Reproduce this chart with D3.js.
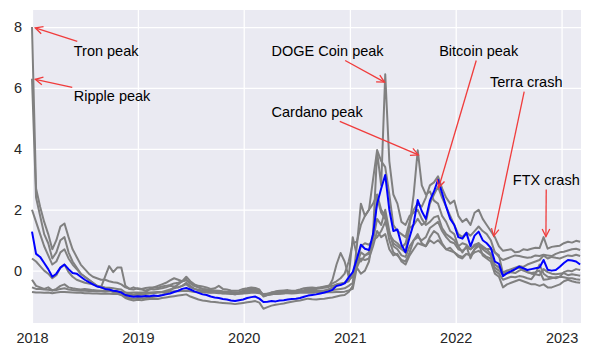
<!DOCTYPE html>
<html>
<head>
<meta charset="utf-8">
<script src="https://d3js.org/d3.v7.min.js"></script>
<style>
body { margin: 0; background: #ffffff; }
svg { display: block; font-family: "Liberation Sans", Arial, sans-serif; }
.grid line { stroke: #ffffff; stroke-width: 1.25; }
.grid text { fill: #262626; font-size: 14.5px; }
</style>
</head>
<body>
<svg id="chart" width="600" height="353"></svg>
<script>
// standardised (z-score) prices, one value every 14 days from 2018-01-01
var startDate = new Date(2018, 0, 1);
var endDate = new Date(2023, 2, 9);
var stepDays = 14;

var tron = [
  8.0, 2.7, 2.1, 1.6, 1.2, 0.7, 1.0, 1.45, 1.55, 1.1, 0.7, 0.45, 0.2, 0.05, -0.1, -0.2, -0.25, -0.3, -0.3, -0.35, -0.38, -0.4, -0.45, -0.55, -0.6, -0.62,
  -0.58, -0.6, -0.57, -0.55, -0.55, -0.56, -0.52, -0.5, -0.47, -0.42, -0.4, -0.35, -0.32, -0.4, -0.5, -0.55, -0.6, -0.62, -0.65, -0.67, -0.7, -0.72, -0.74, -0.76, -0.78, -0.74,
  -0.7, -0.66, -0.62, -0.6, -0.68, -0.8, -0.78, -0.76, -0.77, -0.74, -0.73, -0.72, -0.7, -0.68, -0.67, -0.64, -0.6, -0.58, -0.57, -0.55, -0.54, -0.52, -0.5, -0.45, -0.42, -0.4,
  -0.3, -0.2, 0.1, 0.4, 0.35, 0.4, 0.8, 1.3, 1.1, 1.2, 0.7, 0.5, 0.55, 0.3, 0.2, 0.5, 0.7, 0.9, 0.85, 0.8, 1.0, 0.9, 1.0, 0.85, 0.7, 0.65,
  0.6, 0.5, 0.45, 0.55, 0.5, 0.7, 0.8, 0.75, 0.7, 0.72, 0.6, 0.45, 0.35, 0.4, 0.45, 0.5, 0.48, 0.45, 0.42, 0.44, 0.5, 0.48, 0.52, 0.5, 0.48, 0.55,
  0.6, 0.62, 0.66, 0.7, 0.72, 0.68
];
var ripple = [
  6.3, 2.4, 1.8, 1.2, 0.9, 0.4, 0.6, 1.0, 1.1, 0.6, 0.3, 0.1, -0.1, -0.2, -0.3, -0.4, -0.5, -0.55, -0.2, 0.15, -0.05, 0.1, 0.1, -0.5, -0.6, -0.55,
  -0.6, -0.62, -0.65, -0.6, -0.62, -0.6, -0.58, -0.55, -0.5, -0.52, -0.55, -0.5, -0.45, -0.55, -0.6, -0.65, -0.68, -0.7, -0.72, -0.7, -0.72, -0.75, -0.74, -0.76, -0.78, -0.76,
  -0.74, -0.7, -0.66, -0.65, -0.7, -0.82, -0.8, -0.78, -0.76, -0.75, -0.74, -0.73, -0.72, -0.7, -0.68, -0.66, -0.65, -0.62, -0.6, -0.58, -0.56, -0.55, -0.3, 0.2, 0.58, 0.3,
  -0.2, 1.1, 0.5, 0.3, 0.5, 0.6, 1.1, 2.4, 1.9, 1.7, 1.0, 0.6, 0.5, 0.35, 0.3, 0.6, 1.0, 1.2, 0.9, 0.8, 1.1, 1.3, 1.2, 0.9, 0.7, 0.75,
  0.6, 0.45, 0.4, 0.55, 0.5, 0.6, 0.65, 0.55, 0.45, 0.4, 0.1, 0.0, -0.15, -0.1, -0.05, -0.08, 0.0, 0.05, -0.05, -0.1, -0.12, -0.15, 0.05, -0.05, -0.1, -0.12,
  -0.1, -0.08, -0.15, -0.12, -0.14, -0.17
];
var dogecoin = [
  -0.55, -0.6, -0.6, -0.62, -0.63, -0.65, -0.64, -0.6, -0.58, -0.62, -0.64, -0.65, -0.66, -0.66, -0.67, -0.67, -0.68, -0.68, -0.69, -0.68, -0.68, -0.69, -0.7, -0.72, -0.73, -0.72,
  -0.72, -0.72, -0.73, -0.72, -0.71, -0.7, -0.71, -0.7, -0.69, -0.68, -0.68, -0.67, -0.66, -0.68, -0.7, -0.71, -0.72, -0.72, -0.73, -0.73, -0.74, -0.74, -0.74, -0.75, -0.75, -0.75,
  -0.75, -0.74, -0.73, -0.73, -0.74, -0.77, -0.76, -0.76, -0.75, -0.75, -0.74, -0.74, -0.75, -0.74, -0.73, -0.73, -0.72, -0.73, -0.72, -0.72, -0.72, -0.71, -0.71, -0.7, -0.7, -0.69,
  -0.65, -0.6, 0.1, -0.1, 0.0, 0.3, 1.2, 3.9, 2.8, 6.45, 3.6, 2.5, 2.2, 1.6, 1.5, 1.8, 1.9, 2.0, 1.7, 1.5, 1.6, 1.75, 1.8, 1.4, 1.2, 1.1,
  1.0, 0.8, 0.9, 0.85, 0.7, 0.8, 0.9, 0.7, 0.6, 0.5, 0.0, -0.1, -0.3, -0.25, -0.2, -0.22, -0.18, -0.2, -0.25, -0.28, -0.1, 0.2, -0.1, -0.2, -0.22, -0.25,
  -0.2, -0.22, -0.25, -0.25, -0.28, -0.3
];
var cardano = [
  2.0, 1.6, 1.2, 0.8, 0.5, 0.2, 0.3, 0.6, 0.7, 0.4, 0.2, 0.05, -0.1, -0.2, -0.3, -0.4, -0.5, -0.55, -0.6, -0.65, -0.7, -0.75, -0.8, -0.9, -0.95, -0.98,
  -0.96, -0.97, -0.95, -0.93, -0.92, -0.93, -0.9, -0.88, -0.86, -0.84, -0.82, -0.8, -0.78, -0.85, -0.9, -0.95, -0.98, -1.0, -1.02, -1.03, -1.05, -1.06, -1.07, -1.08, -1.1, -1.08,
  -1.06, -1.04, -1.02, -1.0, -1.05, -1.25, -1.2, -1.15, -1.12, -1.1, -1.08, -1.05, -1.02, -1.0, -0.98, -0.95, -0.92, -0.94, -0.95, -0.93, -0.92, -0.9, -0.88, -0.85, -0.82, -0.8,
  -0.7, -0.5, 0.3, 0.8, 0.9, 0.85, 1.0, 1.1, 1.3, 1.6, 1.2, 0.9, 0.8, 0.7, 0.6, 1.5, 2.5, 3.95, 2.8, 2.5, 2.6, 2.3, 2.2, 1.8, 1.6, 1.3,
  1.2, 0.8, 0.6, 0.8, 0.4, 0.7, 0.9, 0.5, 0.4, 0.3, -0.1, -0.2, -0.55, -0.45, -0.4, -0.35, -0.3, -0.35, -0.4, -0.45, -0.45, -0.5, -0.45, -0.55, -0.55, -0.5,
  -0.45, -0.35, -0.3, -0.35, -0.38, -0.4
];
var bitcoin = [
  -0.3, -0.5, -0.55, -0.6, -0.55, -0.65, -0.6, -0.5, -0.45, -0.55, -0.58, -0.6, -0.62, -0.6, -0.62, -0.64, -0.65, -0.66, -0.66, -0.67, -0.67, -0.68, -0.7, -0.85, -0.9, -0.92,
  -0.9, -0.91, -0.9, -0.88, -0.86, -0.84, -0.8, -0.75, -0.65, -0.55, -0.45, -0.35, -0.2, -0.35, -0.45, -0.5, -0.52, -0.55, -0.6, -0.58, -0.5, -0.6, -0.62, -0.65, -0.66, -0.65,
  -0.6, -0.58, -0.55, -0.57, -0.62, -0.85, -0.8, -0.72, -0.68, -0.66, -0.65, -0.64, -0.66, -0.65, -0.62, -0.58, -0.56, -0.55, -0.57, -0.55, -0.52, -0.5, -0.42, -0.35, -0.25, -0.1,
  0.3, 0.9, 0.95, 1.5, 1.8, 2.0, 2.2, 2.5, 2.0, 1.8, 1.2, 1.0, 0.9, 0.75, 0.9, 1.4, 1.5, 1.7, 1.5, 1.6, 2.2, 2.5, 2.75, 2.4, 2.1, 1.8,
  1.5, 1.2, 1.1, 1.25, 1.15, 1.3, 1.45, 1.3, 1.2, 1.0, 0.6, 0.5, -0.1, 0.0, -0.05, 0.05, 0.1, 0.0, -0.05, -0.08, -0.05, 0.0, -0.3, -0.28, -0.25, -0.22,
  -0.2, -0.05, 0.0, -0.02, 0.05, 0.02
];
var bnb = [
  -0.7, -0.72, -0.72, -0.73, -0.72, -0.74, -0.72, -0.7, -0.7, -0.71, -0.72, -0.73, -0.73, -0.74, -0.74, -0.75, -0.75, -0.76, -0.76, -0.76, -0.77, -0.77, -0.78, -0.8, -0.8, -0.8,
  -0.8, -0.79, -0.77, -0.75, -0.74, -0.72, -0.7, -0.66, -0.62, -0.58, -0.55, -0.5, -0.4, -0.5, -0.6, -0.63, -0.65, -0.67, -0.7, -0.7, -0.72, -0.73, -0.73, -0.74, -0.75, -0.74,
  -0.72, -0.7, -0.68, -0.68, -0.72, -0.82, -0.8, -0.78, -0.76, -0.75, -0.74, -0.73, -0.72, -0.71, -0.7, -0.68, -0.66, -0.67, -0.68, -0.67, -0.66, -0.65, -0.64, -0.62, -0.6, -0.58,
  -0.5, -0.4, 0.8, 2.2, 1.8, 2.0, 3.0, 3.96, 3.6, 3.4, 2.5, 1.5, 1.3, 1.2, 1.1, 1.6, 2.0, 2.2, 2.1, 2.4, 2.8, 2.9, 3.1, 2.7, 2.4, 2.2,
  2.3, 1.8, 1.6, 1.7, 1.5, 1.9, 2.0, 1.7, 1.5, 1.3, 1.1, 0.8, 0.65, 0.68, 0.7, 0.6, 0.62, 0.7, 0.68, 0.72, 0.75, 0.74, 1.1, 0.72, 0.78, 0.8,
  0.82, 0.9, 0.95, 0.92, 0.98, 0.95
];
var litecoin = [
  0.4, 0.3, 0.15, 0.0, -0.1, -0.25, -0.15, 0.1, 0.2, -0.05, -0.2, -0.3, -0.35, -0.4, -0.42, -0.45, -0.5, -0.52, -0.55, -0.56, -0.58, -0.6, -0.62, -0.72, -0.75, -0.78,
  -0.76, -0.74, -0.7, -0.62, -0.55, -0.5, -0.45, -0.4, -0.32, -0.25, -0.3, -0.35, -0.3, -0.42, -0.5, -0.55, -0.6, -0.62, -0.64, -0.65, -0.66, -0.68, -0.69, -0.7, -0.71, -0.7,
  -0.66, -0.62, -0.58, -0.6, -0.65, -0.8, -0.76, -0.72, -0.7, -0.7, -0.69, -0.7, -0.71, -0.7, -0.68, -0.66, -0.64, -0.66, -0.67, -0.66, -0.65, -0.62, -0.55, -0.5, -0.45, -0.4,
  -0.35, -0.1, 0.2, 0.6, 0.5, 0.55, 1.0, 1.7, 1.5, 2.0, 1.3, 0.8, 0.7, 0.5, 0.45, 0.8, 1.0, 1.1, 1.0, 1.1, 1.4, 1.5, 1.6, 1.3, 1.1, 0.95,
  0.9, 0.7, 0.65, 0.75, 0.7, 0.85, 0.9, 0.8, 0.7, 0.55, 0.2, 0.1, -0.05, 0.0, 0.05, 0.1, 0.15, 0.12, 0.2, 0.25, 0.3, 0.35, 0.5, 0.4, 0.45, 0.42,
  0.4, 0.45, 0.5, 0.48, 0.52, 0.48
];
// highlighted series (blue)
var ethereum = [
  1.28, 0.55, 0.45, 0.25, 0.05, -0.2, -0.1, 0.1, 0.2, 0.05, -0.08, -0.1, -0.2, -0.3, -0.38, -0.45, -0.52, -0.55, -0.6, -0.62, -0.66, -0.68, -0.72, -0.8, -0.83, -0.86,
  -0.84, -0.85, -0.83, -0.84, -0.82, -0.83, -0.81, -0.78, -0.75, -0.7, -0.66, -0.6, -0.57, -0.62, -0.68, -0.73, -0.78, -0.8, -0.85, -0.88, -0.9, -0.93, -0.95, -0.98, -1.0, -0.97,
  -0.95, -0.9, -0.87, -0.85, -0.92, -1.03, -1.02, -1.0, -1.01, -0.98, -0.97, -0.95, -0.93, -0.92, -0.9, -0.86, -0.82, -0.8, -0.78, -0.75, -0.72, -0.68, -0.63, -0.5, -0.47, -0.42,
  -0.22, -0.05, 0.38, 0.85, 0.72, 0.68, 1.2, 2.2, 2.7, 3.14, 2.0, 1.3, 1.35, 0.85, 0.6, 1.1, 1.55, 2.32, 1.95, 1.7, 2.3, 2.6, 2.98, 2.55, 2.1, 1.7,
  1.5, 1.1, 1.05, 1.24, 0.8, 1.15, 1.28, 1.0, 0.9, 0.75, 0.3, 0.22, -0.18, -0.08, -0.02, 0.05, 0.13, 0.08, 0.02, 0.05, 0.08, 0.1, 0.35, 0.03, 0.0, 0.02,
  0.13, 0.25, 0.35, 0.33, 0.3, 0.2
];

var greySeries = [tron, ripple, dogecoin, cardano, bitcoin, bnb, litecoin];

var yTicks = [0, 2, 4, 6, 8];
var xTickYears = [2018, 2019, 2020, 2021, 2022, 2023];

// annotated events: label, date and value the arrow points at
var noteLabels = ["Tron peak", "Ripple peak", "DOGE Coin peak", "Cardano peak", "Bitcoin peak", "Terra crash", "FTX crash"];
var noteDates = ["2018-01-04", "2018-01-04", "2021-05-08", "2021-09-02", "2021-11-01", "2022-05-10", "2022-11-08"];
var noteValues = [8.0, 6.3, 6.15, 3.77, 2.65, 1.05, 1.04];
// where each label sits (data coords, left / baseline)
var noteTextDates = ["2018-05-25", "2018-05-25", "2020-04-06", "2020-04-06", "2021-11-05", "2022-04-29", "2022-07-17"];
var noteTextValues = [7.05, 5.57, 7.05, 5.05, 7.05, 6.03, 2.81];

var margin = {top: 10, right: 19, bottom: 30, left: 32},
    width = 600 - margin.left - margin.right,
    height = 353 - margin.top - margin.bottom;

var svg = d3.select("#chart")
  .append("g")
    .attr("transform", "translate(" + margin.left + "," + margin.top + ")");

var x = d3.scaleTime().domain([startDate, endDate]).range([0, width]);
var y = d3.scaleLinear().domain([-1.72, 8.56]).range([height, 0]);
var parse = d3.timeParse("%Y-%m-%d");

function dateAt(i) {
  return d3.timeDay.offset(startDate, i * stepDays);
}

svg.append("rect")
  .attr("width", width)
  .attr("height", height)
  .attr("fill", "#eaeaf2");

// grid + tick labels
svg.append("g")
  .attr("class", "grid")
  .call(d3.axisLeft(y).tickValues(yTicks).tickSize(-width).tickPadding(10).tickFormat(d3.format("d")))
  .call(function(g) { g.select(".domain").remove(); });

svg.append("g")
  .attr("class", "grid")
  .attr("transform", "translate(0," + height + ")")
  .call(d3.axisBottom(x)
    .tickValues(xTickYears.map(function(yr) { return new Date(yr, 0, 1); }))
    .tickSize(-height).tickPadding(10).tickFormat(d3.timeFormat("%Y")))
  .call(function(g) { g.select(".domain").remove(); });

var line = d3.line()
  .x(function(d, i) { return x(dateAt(i)); })
  .y(function(d) { return y(d); });

svg.selectAll(".grey")
    .data(greySeries)
  .enter().append("path")
    .attr("class", "grey")
    .attr("d", line)
    .attr("fill", "none")
    .attr("stroke", "#808080")
    .attr("stroke-width", 2)
    .attr("stroke-linejoin", "round");

svg.append("path")
  .attr("d", line(ethereum))
  .attr("fill", "none")
  .attr("stroke", "#0000ff")
  .attr("stroke-width", 2)
  .attr("stroke-linejoin", "round");

// annotations
var notes = svg.append("g");
noteLabels.forEach(function(label, i) {
  var txt = notes.append("text")
    .attr("x", x(parse(noteTextDates[i])))
    .attr("y", y(noteTextValues[i]))
    .attr("font-size", "14.5px")
    .attr("fill", "#000")
    .text(label);

  var box = txt.node().getBBox();
  var tx = x(parse(noteDates[i])), ty = y(noteValues[i]);
  var cx = box.x + box.width / 2, cy = box.y + box.height / 2;
  var dx = tx - cx, dy = ty - cy;
  var len = Math.sqrt(dx * dx + dy * dy);
  var pad = 1.5;
  var s = Math.min((box.width / 2 + pad) / Math.abs(dx || 1e-6), (box.height / 2 + pad) / Math.abs(dy || 1e-6));
  var x0 = cx + dx * s, y0 = cy + dy * s;
  var ux = dx / len, uy = dy / len;
  var x1 = tx - ux * 2.5, y1 = ty - uy * 2.5;

  notes.append("line")
    .attr("x1", x0).attr("y1", y0)
    .attr("x2", x1).attr("y2", y1)
    .attr("stroke", "#f03c3c")
    .attr("stroke-width", 1.3);

  // open "->" head
  var hl = 7.5, hw = 3.8;
  var bx = x1 - ux * hl, by = y1 - uy * hl;
  notes.append("path")
    .attr("d", "M" + (bx - uy * hw) + "," + (by + ux * hw) + "L" + x1 + "," + y1 + "L" + (bx + uy * hw) + "," + (by - ux * hw))
    .attr("fill", "none")
    .attr("stroke", "#f03c3c")
    .attr("stroke-width", 1.3);
});
</script>
</body>
</html>
